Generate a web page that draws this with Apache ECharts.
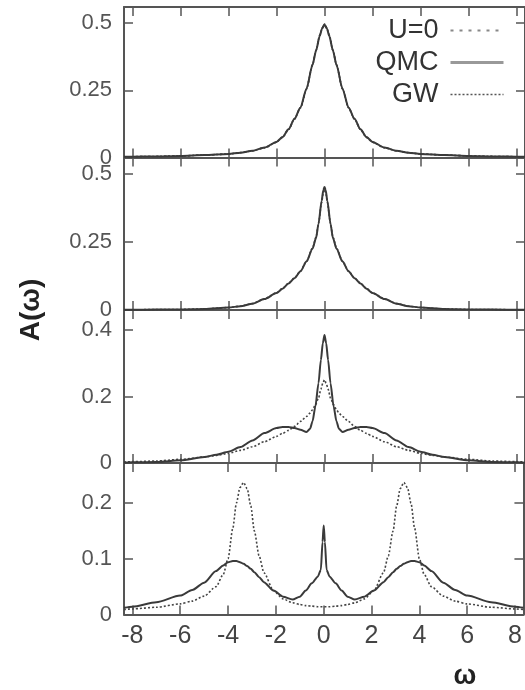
<!DOCTYPE html>
<html>
<head>
<meta charset="utf-8">
<script src="https://cdn.jsdelivr.net/npm/echarts@6/dist/echarts.min.js"></script>
<style>
  html, body { margin: 0; padding: 0; background: #fff; }
  #chart { width: 525px; height: 690px; }
</style>
</head>
<body>
<div id="chart"></div>
<script>
// Spectral functions A(ω) in four stacked panels (increasing interaction strength).
const xTicks = [-8, -6, -4, -2, 0, 2, 4, 6, 8];
const yTicks = [
  [0, 0.25, 0.5],
  [0, 0.25, 0.5],
  [0, 0.2, 0.4],
  [0, 0.1, 0.2]
];
const yMax = [0.56, 0.56, 0.46, 0.272];
const seriesNames = ['U=0', 'QMC', 'GW'];

// Panel 1
const omega1 = [-8.35, -8, -7, -6, -5, -4, -3.5, -3, -2.5, -2, -1.75, -1.5, -1.25, -1, -0.75, -0.5, -0.35, -0.2, -0.1, 0,
                0.1, 0.2, 0.35, 0.5, 0.75, 1, 1.25, 1.5, 1.75, 2, 2.5, 3, 3.5, 4, 5, 6, 7, 8, 8.35];
const u0P1  = [0.003, 0.003, 0.004, 0.006, 0.009, 0.013, 0.018, 0.025, 0.036, 0.057, 0.075, 0.104, 0.143, 0.185, 0.255, 0.345, 0.400, 0.455, 0.482, 0.498,
               0.482, 0.455, 0.400, 0.345, 0.255, 0.185, 0.143, 0.104, 0.075, 0.057, 0.036, 0.025, 0.018, 0.013, 0.009, 0.006, 0.004, 0.003, 0.003];
const qmcP1 = [0.003, 0.003, 0.004, 0.006, 0.009, 0.013, 0.018, 0.025, 0.037, 0.058, 0.076, 0.105, 0.144, 0.186, 0.256, 0.344, 0.398, 0.452, 0.480, 0.495,
               0.480, 0.452, 0.398, 0.344, 0.256, 0.186, 0.144, 0.105, 0.076, 0.058, 0.037, 0.025, 0.018, 0.013, 0.009, 0.006, 0.004, 0.003, 0.003];
const gwP1  = [0.003, 0.003, 0.004, 0.006, 0.009, 0.013, 0.018, 0.025, 0.036, 0.057, 0.075, 0.104, 0.143, 0.185, 0.255, 0.345, 0.399, 0.454, 0.481, 0.497,
               0.481, 0.454, 0.399, 0.345, 0.255, 0.185, 0.143, 0.104, 0.075, 0.057, 0.036, 0.025, 0.018, 0.013, 0.009, 0.006, 0.004, 0.003, 0.003];

// Panel 2
const omega2 = [-8.35, -8, -7, -6, -5, -4, -3.5, -3, -2.5, -2, -1.75, -1.5, -1.25, -1, -0.75, -0.5, -0.35, -0.25, -0.12, -0.05, 0,
                0.05, 0.12, 0.25, 0.35, 0.5, 0.75, 1, 1.25, 1.5, 1.75, 2, 2.5, 3, 3.5, 4, 5, 6, 7, 8, 8.35];
const qmcP2 = [0.001, 0.001, 0.0015, 0.002, 0.004, 0.009, 0.014, 0.023, 0.040, 0.062, 0.078, 0.097, 0.117, 0.142, 0.178, 0.225, 0.265, 0.317, 0.400, 0.440, 0.452,
               0.440, 0.400, 0.317, 0.265, 0.225, 0.178, 0.142, 0.117, 0.097, 0.078, 0.062, 0.040, 0.023, 0.014, 0.009, 0.004, 0.002, 0.0015, 0.001, 0.001];
const gwP2  = [0.001, 0.001, 0.0015, 0.002, 0.004, 0.009, 0.014, 0.024, 0.041, 0.063, 0.079, 0.098, 0.118, 0.143, 0.179, 0.227, 0.268, 0.318, 0.395, 0.432, 0.443,
               0.432, 0.395, 0.318, 0.268, 0.227, 0.179, 0.143, 0.118, 0.098, 0.079, 0.063, 0.041, 0.024, 0.014, 0.009, 0.004, 0.002, 0.0015, 0.001, 0.001];

// Panel 3
const omega3 = [-8.35, -8, -7, -6, -5, -4.5, -4, -3.5, -3, -2.5, -2, -1.75, -1.5, -1.25, -1, -0.75, -0.6, -0.5, -0.38, -0.25, -0.15, -0.07, 0,
                0.07, 0.15, 0.25, 0.38, 0.5, 0.6, 0.75, 1, 1.25, 1.5, 1.75, 2, 2.5, 3, 3.5, 4, 4.5, 5, 6, 7, 8, 8.35];
const qmcP3 = [0.001, 0.002, 0.003, 0.008, 0.018, 0.025, 0.034, 0.048, 0.068, 0.090, 0.105, 0.108, 0.108, 0.105, 0.100, 0.093, 0.103, 0.125, 0.170, 0.240, 0.310, 0.360, 0.385,
               0.360, 0.310, 0.240, 0.170, 0.125, 0.103, 0.093, 0.100, 0.105, 0.108, 0.108, 0.105, 0.090, 0.068, 0.048, 0.034, 0.025, 0.018, 0.008, 0.003, 0.002, 0.001];
const gwP3  = [0.003, 0.004, 0.006, 0.011, 0.018, 0.023, 0.029, 0.038, 0.049, 0.064, 0.080, 0.089, 0.098, 0.110, 0.125, 0.140, 0.150, 0.160, 0.175, 0.195, 0.222, 0.240, 0.250,
               0.240, 0.222, 0.195, 0.175, 0.160, 0.150, 0.140, 0.125, 0.110, 0.098, 0.089, 0.080, 0.064, 0.049, 0.038, 0.029, 0.023, 0.018, 0.011, 0.006, 0.004, 0.003];

// Panel 4
const omega4 = [-8.35, -8, -7, -6, -5.5, -5, -4.5, -4.2, -4, -3.8, -3.65, -3.5, -3.35, -3.2, -3.05, -2.9, -2.7, -2.5, -2.1, -1.7, -1.3, -1, -0.75, -0.5, -0.25, -0.12, -0.05, 0,
                0.05, 0.12, 0.25, 0.5, 0.75, 1, 1.3, 1.7, 2.1, 2.5, 2.7, 2.9, 3.05, 3.2, 3.35, 3.5, 3.65, 3.8, 4, 4.2, 4.5, 5, 5.5, 6, 7, 8, 8.35];
const qmcP4 = [0.012, 0.014, 0.022, 0.034, 0.044, 0.057, 0.078, 0.088, 0.094, 0.096, 0.096, 0.094, 0.091, 0.087, 0.082, 0.076, 0.067, 0.058, 0.043, 0.032, 0.027, 0.032, 0.043, 0.056, 0.068, 0.080, 0.130, 0.160,
               0.130, 0.080, 0.068, 0.056, 0.043, 0.032, 0.027, 0.032, 0.043, 0.058, 0.067, 0.076, 0.082, 0.087, 0.091, 0.094, 0.096, 0.096, 0.094, 0.088, 0.078, 0.057, 0.044, 0.034, 0.022, 0.014, 0.012];
const gwP4  = [0.009, 0.010, 0.013, 0.019, 0.024, 0.033, 0.050, 0.072, 0.100, 0.155, 0.200, 0.228, 0.237, 0.226, 0.195, 0.150, 0.105, 0.075, 0.043, 0.028, 0.021, 0.018, 0.016, 0.015, 0.014, 0.014, 0.014, 0.014,
               0.014, 0.014, 0.014, 0.015, 0.016, 0.018, 0.021, 0.028, 0.043, 0.075, 0.105, 0.150, 0.195, 0.226, 0.237, 0.228, 0.200, 0.155, 0.100, 0.072, 0.050, 0.033, 0.024, 0.019, 0.013, 0.010, 0.009];

const panels = [
  { omega: omega1, lines: { 'U=0': u0P1, 'QMC': qmcP1, 'GW': gwP1 } },
  { omega: omega2, lines: { 'QMC': qmcP2, 'GW': gwP2 } },
  { omega: omega3, lines: { 'QMC': qmcP3, 'GW': gwP3 } },
  { omega: omega4, lines: { 'QMC': qmcP4, 'GW': gwP4 } }
];

const FONT = 'Liberation Sans';
const frameColor = '#555';
const lineStyles = {
  'U=0': { color: '#666', width: 1.6, type: [3, 5] },
  'QMC': { color: '#3a3a3a', width: 2, type: 'solid' },
  'GW':  { color: '#444', width: 1.6, type: [2, 2] }
};

const gridBox = [
  { top: 7, height: 150.5 },
  { top: 157.5, height: 152.5 },
  { top: 310, height: 153 },
  { top: 463, height: 151.5 }
];

const grids = [], xAxes = [], yAxes = [], series = [];
panels.forEach((p, i) => {
  grids.push({ left: 124, width: 404, top: gridBox[i].top, height: gridBox[i].height, containLabel: false });
  const last = i === panels.length - 1;
  const xBase = {
    type: 'value', gridIndex: i, min: -8.35, max: 8.35,
    axisLine: { show: true, onZero: false, lineStyle: { color: frameColor, width: 2 } },
    axisTick: { show: true, inside: true, length: 9, customValues: xTicks, lineStyle: { color: frameColor, width: 1.5 } },
    splitLine: { show: false }
  };
  xAxes.push(Object.assign({}, xBase, {
    position: 'bottom',
    axisLabel: { show: last, customValues: xTicks, fontFamily: FONT, fontSize: 25, color: '#444', margin: 9 }
  }));
  xAxes.push(Object.assign({}, xBase, { position: 'top', axisLabel: { show: false } }));
  const yBase = {
    type: 'value', gridIndex: i, min: 0, max: yMax[i],
    axisLine: { show: true, onZero: false, lineStyle: { color: frameColor, width: 2 } },
    axisTick: { show: true, inside: true, length: 9, customValues: yTicks[i], lineStyle: { color: frameColor, width: 1.5 } },
    splitLine: { show: false }
  };
  yAxes.push(Object.assign({}, yBase, {
    position: 'left',
    axisLabel: { show: true, customValues: yTicks[i], fontFamily: FONT, fontSize: 22, color: '#555', margin: 12,
                 padding: [4, 0, 0, 0] }
  }));
  yAxes.push(Object.assign({}, yBase, { position: 'right', axisLabel: { show: false } }));

  seriesNames.forEach(name => {
    const vals = p.lines[name];
    if (!vals) return;
    series.push({
      name: name, type: 'line', xAxisIndex: 2 * i, yAxisIndex: 2 * i,
      data: p.omega.map((w, k) => [w, vals[k]]),
      symbol: 'none', smooth: 0.25, smoothMonotone: 'x',
      lineStyle: lineStyles[name], itemStyle: { color: lineStyles[name].color },
      z: name === 'QMC' ? 3 : 2, animation: false
    });
  });
});

const chart = echarts.init(document.getElementById('chart'), null, { renderer: 'canvas' });
chart.setOption({
  backgroundColor: '#fff',
  animation: false,
  grid: grids,
  xAxis: xAxes,
  yAxis: yAxes,
  series: series,
  legend: {
    data: [
      { name: 'U=0', lineStyle: { color: '#888', width: 2, type: [3, 6] } },
      { name: 'QMC', lineStyle: { color: '#999', width: 3, type: 'solid' } },
      { name: 'GW', lineStyle: { color: '#555', width: 1.6, type: [2, 2] } }
    ],
    orient: 'vertical', right: 20, top: 17, align: 'right', padding: 0,
    itemWidth: 53, itemHeight: 14, itemGap: 5,
    itemStyle: { color: 'rgba(0,0,0,0)', borderWidth: 0, opacity: 0 },
    textStyle: { fontFamily: FONT, fontSize: 27, color: '#333', padding: [0, 7, 0, 0] },
    selectedMode: false
  },
  graphic: [
    {
      type: 'text', x: 31, y: 310, rotation: Math.PI / 2,
      style: { text: 'A(ω)', font: 'bold 28px ' + FONT, fill: '#222', align: 'center', verticalAlign: 'middle' }
    },
    {
      type: 'text', x: 465, y: 677,
      style: { text: 'ω', font: 'bold 27px ' + FONT, fill: '#222', align: 'center', verticalAlign: 'middle' }
    }
  ]
});
</script>
</body>
</html>
